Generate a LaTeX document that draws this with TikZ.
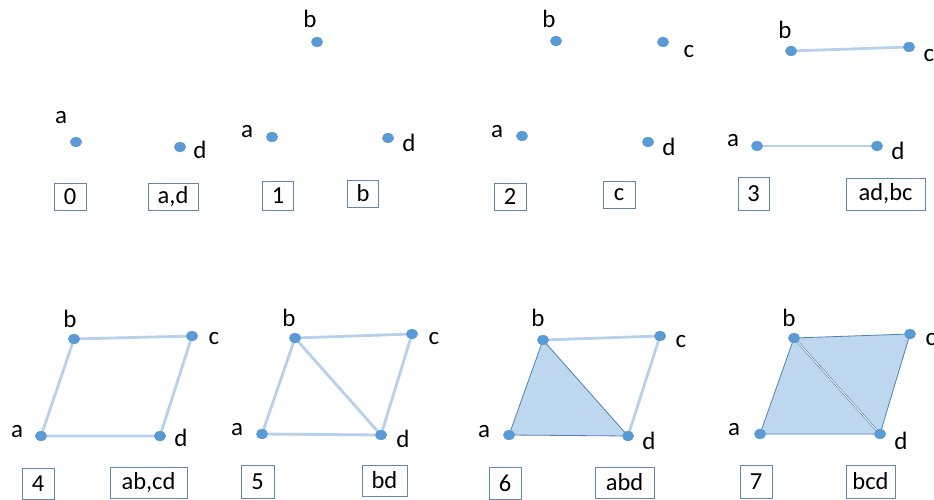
\documentclass[tikz,border=0pt]{standalone}
\usepackage{fontspec}
\setmainfont{Carlito}
\usepackage{xcolor}
\usetikzlibrary{shapes,positioning,backgrounds}
\definecolor{dotblue}{RGB}{91,155,213}
\definecolor{edgeblue}{RGB}{183,208,235}
\definecolor{facefill}{RGB}{189,215,238}
\definecolor{faceline}{RGB}{80,128,180}
\definecolor{boxline}{RGB}{95,135,178}

\begin{document}
\begin{tikzpicture}[x=1pt, y=-1pt, every node/.style={font=\fontsize{25}{28}\selectfont},
    vdot/.style={ellipse, fill=dotblue, minimum width=12pt, minimum height=10pt, inner sep=0pt},
    vname/.style={inner sep=0pt},
    edge/.style={draw=edgeblue, line width=2.8pt},
    face/.style={fill=facefill, draw=faceline, line width=0.8pt, line join=round},
    stepbox/.style={draw=boxline, line width=0.9pt, inner sep=0pt, font=\fontsize{24.5}{26}\selectfont}]
    \useasboundingbox (0,0) rectangle (934,500);

    % Vertices and their names, one list per stage
    \foreach \v/\x/\y/\lx/\ly in {a/76/142/61/118, d/180/147/200/150} {
        \node[vdot] (p0\v) at (\x,\y) {};
        \node[vname] (l0\v) at (\lx,\ly) {\v};
    }
    \foreach \v/\x/\y/\lx/\ly in {b/317/42/310/19, a/272/137/247/132, d/388/138/409/143} {
        \node[vdot] (p1\v) at (\x,\y) {};
        \node[vname] (l1\v) at (\lx,\ly) {\v};
    }
    \foreach \v/\x/\y/\lx/\ly in {b/556/41/549/19, c/663/42/689/52, a/522/136/497/132, d/648/142/669/147} {
        \node[vdot] (p2\v) at (\x,\y) {};
        \node[vname] (l2\v) at (\lx,\ly) {\v};
    }
    \foreach \v/\x/\y/\lx/\ly in {b/791/51/785/30, c/909/47/929/56, a/757/146/733/141, d/877/146/898/151} {
        \node[vdot] (p3\v) at (\x,\y) {};
        \node[vname] (l3\v) at (\lx,\ly) {\v};
    }
    \foreach \v/\x/\y/\lx/\ly in {b/74/339/70/319, c/192/336/214/339, a/41/436/17/432, d/160/436/181/438} {
        \node[vdot] (p4\v) at (\x,\y) {};
        \node[vname] (l4\v) at (\lx,\ly) {\v};
    }
    \foreach \v/\x/\y/\lx/\ly in {b/295/338/289/318, c/412/334/434/339, a/262/434/237/430, d/381/435/403/439} {
        \node[vdot] (p5\v) at (\x,\y) {};
        \node[vname] (l5\v) at (\lx,\ly) {\v};
    }
    \foreach \v/\x/\y/\lx/\ly in {b/543/340/538/318, c/660/336/681/342, a/509/435/484/432, d/628/436/649/441} {
        \node[vdot] (p6\v) at (\x,\y) {};
        \node[vname] (l6\v) at (\lx,\ly) {\v};
    }
    \foreach \v/\x/\y/\lx/\ly in {b/794/338/789/318, c/910/334/931/340, a/760/434/734/430, d/880/434/901/441} {
        \node[vdot] (p7\v) at (\x,\y) {};
        \node[vname] (l7\v) at (\lx,\ly) {\v};
    }

    % Edges and faces
    \begin{scope}[on background layer]
        \draw[edge] (p3b.center) -- (p3c.center);
        \draw[edge] (p3a.center) -- (p3d.center);
        \draw[edge] (p4a.center) -- (p4b.center) -- (p4c.center) -- (p4d.center) -- cycle;
        \draw[edge] (p5a.center) -- (p5b.center) -- (p5c.center) -- (p5d.center) -- cycle;
        \draw[edge] (p5b.center) -- (p5d.center);
        \draw[edge] (p6b.center) -- (p6c.center) -- (p6d.center);
        \draw[face] (p6a.center) -- (p6b.center) -- (p6d.center) -- cycle;
        \draw[face] (p7a.center) -- (p7b.center) -- (p7d.center) -- cycle;
        \draw[face] (p7b.center) -- (p7c.center) -- (p7d.center) -- cycle;
        \draw[draw=faceline, line width=0.6pt, double=white, double distance=0.9pt] (p7b.center) -- (p7d.center);
    \end{scope}

    % Stage numbers and added simplices
    \foreach \n/\x/\y/\w/\h/\t in {0/70/196.5/32/27/0, 1/278/195.5/31/29/1, 2/510/196.5/32/27/2, 3/753.5/193.5/31/33/3,
        4/38/483.5/32/31/4, 5/257.5/481.5/33/33/5, 6/505/483/32/32/6, 7/756/481.5/32/33/7} {
        \node[stepbox, minimum width=\w pt, minimum height=\h pt] (num\n) at (\x,\y) {\t};
    }
    \foreach \n/\x/\y/\w/\h/\t in {0/173/196.5/50/27/{a,d}, 1/363/193.5/31/27/b, 2/619/194.5/32/27/c, 3/885.5/194/79/32/{ad,bc},
        4/148.5/482.5/77/31/{ab,cd}, 5/384.5/480.5/45/31/bd, 6/624.5/482.5/59/31/abd, 7/870.5/481.5/49/33/bcd} {
        \node[stepbox, minimum width=\w pt, minimum height=\h pt] (new\n) at (\x,\y) {\t};
    }
\end{tikzpicture}
\end{document}
